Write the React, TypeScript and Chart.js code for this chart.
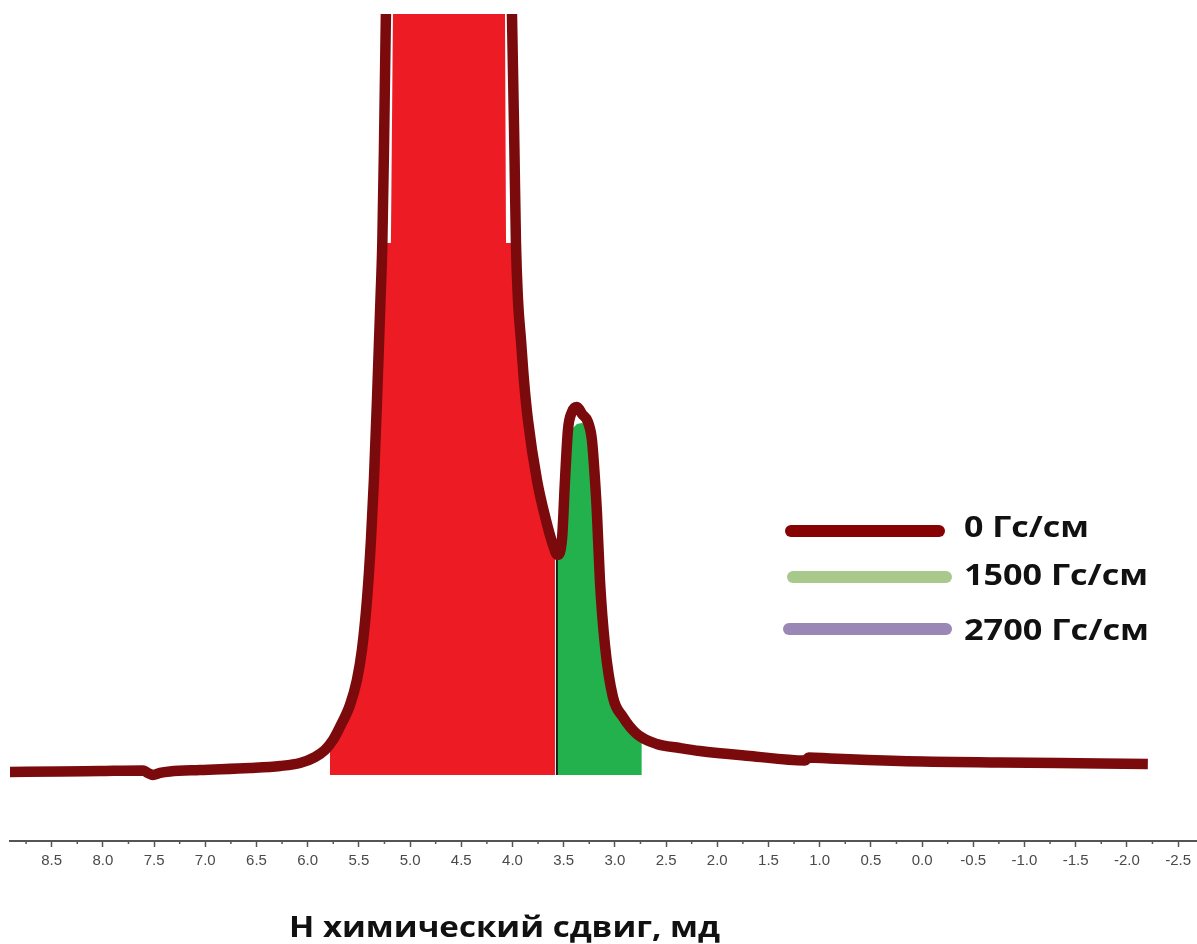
import React, { useEffect, useRef } from "react";
import { Chart, registerables } from "chart.js";

Chart.register(...registerables);

// Main spectrum, 0 Гс/см (chemical shift, ppm  ->  intensity, a.u.)
const shiftPpm = [
  8.907, 8.419, 8.028, 7.609, 7.56, 7.511, 7.442, 7.345, 7.052, 6.564, 6.27, 6.075, 5.929, 5.831, 5.753,
  5.685, 5.587, 5.519, 5.47, 5.421, 5.382, 5.353, 5.323, 5.289, 5.271, 5.255, 5.236, 5.206, 4.904, 4.61,
  4.316, 4.034, 4.005, 3.981, 3.966, 3.946, 3.917, 3.888, 3.849, 3.761, 3.673, 3.604, 3.561, 3.517, 3.487,
  3.458, 3.419, 3.37, 3.321, 3.263, 3.224, 3.194, 3.175, 3.146, 3.097, 3.019, 2.921, 2.785, 2.59, 2.366,
  2.17, 1.682, 1.144, 1.105, 0.9, 0.217, -0.76, -1.736, -2.205,
];
const intensity0 = [
  -0.82, -0.76, -0.69, -0.62, -0.95, -1.22, -0.95, -0.76, -0.56, -0.29, -0.02, 0.38, 1.17, 2.1, 3.43,
  5.16, 8.09, 11.42, 15.41, 22.06, 30.04, 38.02, 48.66, 61.96, 69.54, 81.91, 100, 115.2, 181.7, 195.0,
  181.7, 115.2, 100, 81.91, 69.54, 61.96, 56.64, 51.32, 46.0, 38.02, 32.7, 29.37, 28.04, 30.04, 38.02,
  44.67, 47.06, 47.73, 46.8, 45.73, 43.34, 38.02, 33.63, 24.72, 16.07, 9.15, 6.49, 4.23, 2.9, 2.37,
  1.97, 1.31, 0.71, 1.11, 0.97, 0.64, 0.44, 0.31, 0.24,
];

// Red integrated region (upper edge)
const redFillPpm = [
  5.782, 5.782, 5.685, 5.587, 5.519, 5.47, 5.421, 5.382, 5.353, 5.323, 5.289, 5.255, 5.187, 5.167, 5.167,
  4.073, 4.073, 4.063, 3.966, 3.946, 3.917, 3.888, 3.849, 3.761, 3.673, 3.604, 3.585, 3.585,
];
const redFillTop = [
  -1.22, 2.77, 5.16, 8.09, 11.42, 15.41, 22.06, 30.04, 38.02, 48.66, 61.96, 69.54, 69.54, 100, 109.85,
  109.85, 100, 69.54, 69.54, 61.96, 56.64, 51.32, 46.0, 38.02, 32.7, 29.37, 28.71, -1.22,
];

// Green integrated region (upper edge)
const greenFillPpm = [
  3.566, 3.566, 3.536, 3.497, 3.468, 3.439, 3.409, 3.37, 3.321, 3.272, 3.243, 3.224, 3.204, 3.185, 3.146,
  3.097, 3.029, 2.951, 2.873, 2.795, 2.737, 2.737,
];
const greenFillTop = [
  -1.22, 27.38, 31.37, 36.69, 40.01, 43.34, 44.93, 45.47, 45.6, 45.33, 44.4, 39.35, 32.7, 24.72, 16.74,
  12.75, 9.15, 7.16, 5.83, 4.1, 3.04, -1.22,
];

const fillFloor = -1.22;
const xMin = -2.685;
const xMax = 8.907;
const majorStep = 0.5;
const minorStep = 0.25;

const legendLabels = ["0 Гс/см", "1500 Гс/см", "2700 Гс/см"];
const legendColors = ["#870303", "#a9c88c", "#9a87b6"];
const axisTitle = "Н химический сдвиг, мд";

const curveColor = "#7b0a0c";
const redColor = "#ed1c24";
const greenColor = "#22b14c";

const overlayPlugin = {
  id: "overlay",
  afterDraw(chart: any) {
    const ctx: CanvasRenderingContext2D = chart.ctx;
    const xs = chart.scales.x;
    const bottom = chart.chartArea.bottom;
    ctx.save();
    // minor ticks
    ctx.strokeStyle = "#555";
    ctx.lineWidth = 1.5;
    for (let v = Math.ceil(xMin / minorStep) * minorStep; v <= xMax + 1e-9; v += minorStep) {
      const r = v / majorStep;
      if (Math.abs(r - Math.round(r)) < 1e-6) continue;
      const px = xs.getPixelForValue(v);
      ctx.beginPath();
      ctx.moveTo(px, bottom);
      ctx.lineTo(px, bottom + 3);
      ctx.stroke();
    }
    // legend
    const lineX1 = [791, 793, 789];
    const lineX2 = [939, 946, 946];
    const lineY = [531, 577, 629];
    const textX = 964;
    const textBase = [537, 585, 640];
    const textW = [125, 184, 185];
    ctx.lineCap = "round";
    ctx.lineWidth = 12;
    ctx.font = "bold 28px 'Open Sans'";
    ctx.textBaseline = "alphabetic";
    ctx.textAlign = "left";
    legendLabels.forEach((label, i) => {
      ctx.strokeStyle = legendColors[i];
      ctx.beginPath();
      ctx.moveTo(lineX1[i], lineY[i]);
      ctx.lineTo(lineX2[i], lineY[i]);
      ctx.stroke();
      const w = ctx.measureText(label).width;
      ctx.save();
      ctx.translate(textX, textBase[i]);
      ctx.scale(textW[i] / w, 1);
      ctx.fillStyle = "#111";
      ctx.fillText(label, 0, 0);
      ctx.restore();
    });
    // axis title
    ctx.font = "bold 29px 'Open Sans'";
    const tw = ctx.measureText(axisTitle).width;
    ctx.translate(289, 937);
    ctx.scale(431 / tw, 1);
    ctx.fillStyle = "#111";
    ctx.fillText(axisTitle, 0, 0);
    ctx.restore();
  },
};

const toPts = (xs: number[], ys: number[]) => xs.map((x, i) => ({ x, y: ys[i] }));

export default function App() {
  const ref = useRef<HTMLCanvasElement>(null);
  useEffect(() => {
    if (!ref.current) return;
    const chart = new Chart(ref.current, {
      type: "line",
      data: {
        datasets: [
          {
            label: legendLabels[0],
            data: toPts(shiftPpm, intensity0),
            borderColor: curveColor,
            borderWidth: 10.5,
            pointRadius: 0,
            fill: false,
            cubicInterpolationMode: "monotone",
            borderCapStyle: "butt",
            borderJoinStyle: "round",
            order: 0,
            clip: 0,
          } as any,
          {
            label: "green",
            data: toPts(greenFillPpm, greenFillTop),
            borderColor: "rgba(0,0,0,0)",
            backgroundColor: greenColor,
            borderWidth: 2,
            pointRadius: 0,
            fill: { value: fillFloor },
            tension: 0,
            order: 1,
            clip: 0,
            segment: {
              borderColor: (c: any) => (c.p0DataIndex === 0 ? "#1a1a1a" : "rgba(0,0,0,0)"),
            },
          } as any,
          {
            label: "red",
            data: toPts(redFillPpm, redFillTop),
            borderColor: "rgba(0,0,0,0)",
            backgroundColor: redColor,
            borderWidth: 0,
            pointRadius: 0,
            fill: { value: fillFloor },
            tension: 0,
            order: 2,
            clip: 0,
          } as any,
        ],
      },
      options: {
        responsive: false,
        animation: false,
        devicePixelRatio: 1,
        events: [],
        layout: { padding: { left: 10, right: 0, top: 14, bottom: 0 } },
        plugins: {
          legend: { display: false },
          tooltip: { enabled: false },
          title: { display: false },
        },
        scales: {
          x: {
            type: "linear",
            reverse: true,
            min: xMin,
            max: xMax,
            afterFit: (s: any) => {
              s.paddingLeft = 0;
              s.paddingRight = 0;
              s.height = 103;
            },
            border: { display: true, color: "#555", width: 2 },
            grid: {
              display: true,
              drawOnChartArea: false,
              drawTicks: true,
              tickLength: 6,
              tickColor: "#555",
              tickWidth: 1.5,
            },
            ticks: {
              stepSize: majorStep,
              includeBounds: false,
              autoSkip: false,
              maxRotation: 0,
              padding: 5,
              color: "#4a4a4a",
              font: { family: "'Liberation Sans', Arial, sans-serif", size: 15 },
              callback: (v: any) => Number(v).toFixed(1),
            },
          },
          y: { display: false, min: -10, max: 100 },
        },
      } as any,
      plugins: [overlayPlugin],
    });
    return () => chart.destroy();
  }, []);
  return (
    <div style={{ position: "fixed", left: 0, top: 0, width: 1197, height: 944, background: "#fff" }}>
      <canvas ref={ref} width={1197} height={944} style={{ display: "block" }} />
    </div>
  );
}
